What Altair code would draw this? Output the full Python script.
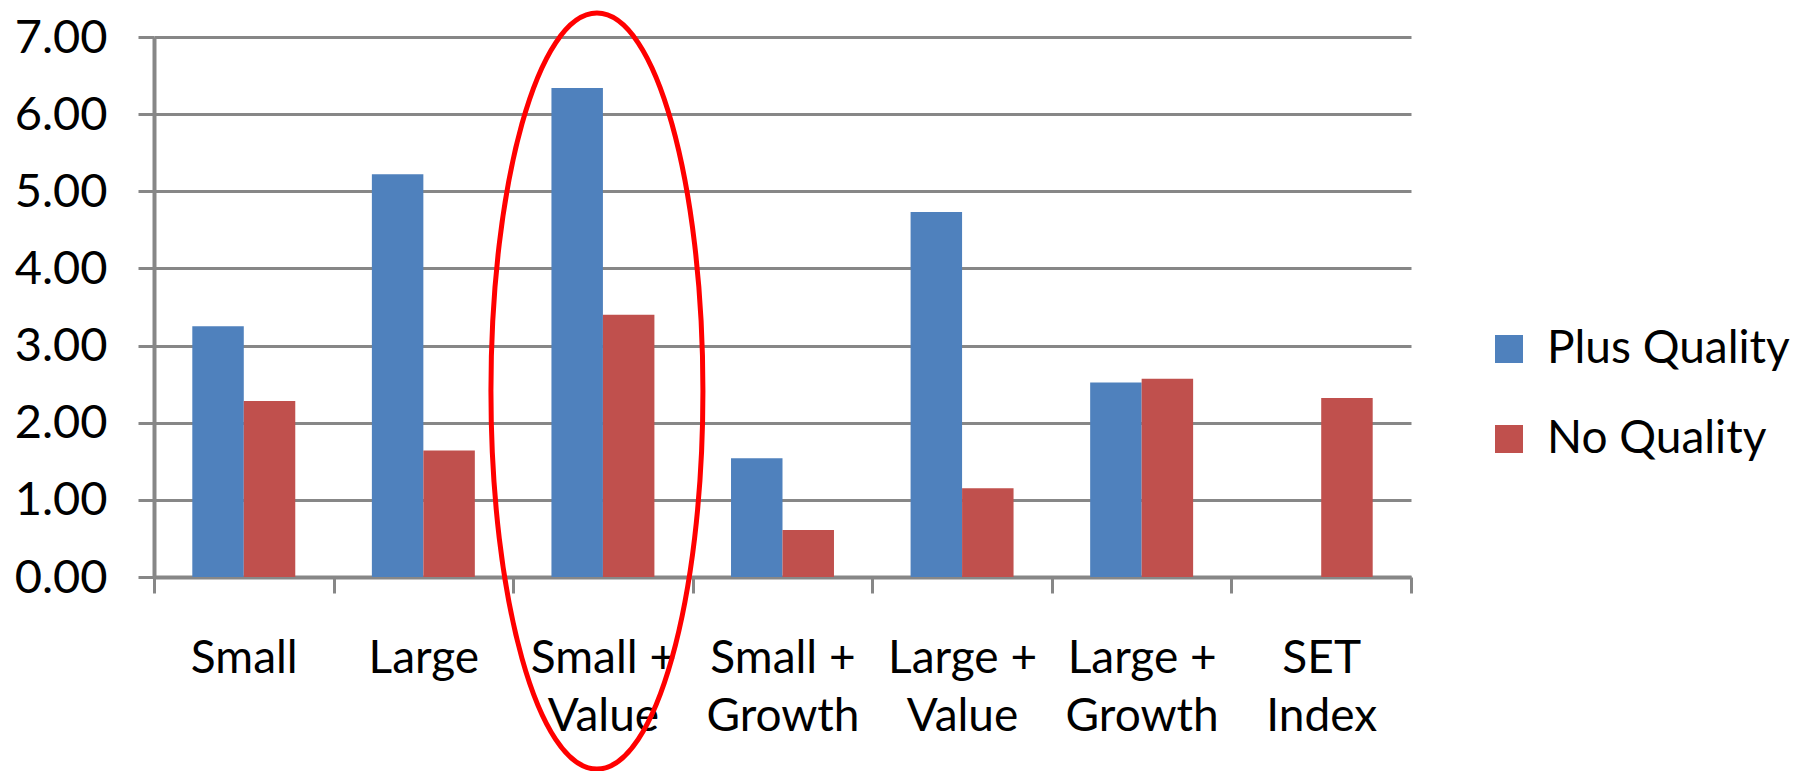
import altair as alt
import pandas as pd

# Portfolio groups on the x axis (line breaks mark the two-line labels)
categories = [
    "Small",
    "Large",
    "Small +\nValue",
    "Small +\nGrowth",
    "Large +\nValue",
    "Large +\nGrowth",
    "SET\nIndex",
]
series_names = ["Plus Quality", "No Quality"]
plus_quality = [3.25, 5.22, 6.34, 1.54, 4.73, 2.52, None]
no_quality = [2.28, 1.64, 3.40, 0.61, 1.15, 2.57, 2.32]
y_ticks = [0, 1, 2, 3, 4, 5, 6, 7]

# Highlighted group and the vertical centre of its outline (in axis units)
highlight_category = ["Small +\nValue"]
highlight_center = [2.41]

BLUE = "#4F81BD"
RED = "#C0504D"
GRAY = "#878787"
FONT = "Lato"

rows = []
for cat, pq, nq in zip(categories, plus_quality, no_quality):
    if pq is not None:
        rows.append({"category": cat, "series": series_names[0], "value": pq})
    if nq is not None:
        rows.append({"category": cat, "series": series_names[1], "value": nq})
bars_df = pd.DataFrame(rows)

hl_df = pd.DataFrame({"category": highlight_category, "center": highlight_center})

x_scale = alt.Scale(domain=categories, paddingInner=0, paddingOuter=0)
y_scale = alt.Scale(domain=[0, 7], nice=False, zero=True)

bars = alt.Chart(bars_df).mark_bar(stroke=None, xOffset=3).encode(
    x=alt.X(
        "category:N",
        scale=x_scale,
        sort=categories,
        axis=alt.Axis(
            title=None,
            labelAngle=0,
            labelExpr="split(datum.label, '\\n')",
            labelFont=FONT,
            labelFontSize=46,
            labelColor="black",
            labelPadding=43,
            labelLineHeight=58,
            labelOverlap=False,
            labelBound=False,
            labelFlush=False,
            labelLimit=0,
            domainColor=GRAY,
            domainWidth=4,
            tickColor=GRAY,
            tickWidth=3,
            tickSize=16,
            tickBand="extent",
            grid=False,
        ),
    ),
    xOffset=alt.XOffset(
        "series:N",
        sort=series_names,
        scale=alt.Scale(domain=series_names, paddingInner=0, paddingOuter=0.744),
    ),
    y=alt.Y(
        "value:Q",
        scale=y_scale,
        axis=alt.Axis(
            title=None,
            values=y_ticks,
            format=".2f",
            labelFont=FONT,
            labelFontSize=47,
            labelColor="black",
            labelPadding=31,
            labelOffset=1,
            domainColor=GRAY,
            domainWidth=4,
            tickColor=GRAY,
            tickWidth=3,
            tickSize=16,
            grid=True,
            gridColor=GRAY,
            gridWidth=3,
        ),
    ),
    color=alt.Color(
        "series:N",
        sort=series_names,
        scale=alt.Scale(domain=series_names, range=[BLUE, RED]),
        legend=alt.Legend(
            title=None,
            orient="none",
            legendX=1332,
            legendY=289,
            symbolType="square",
            symbolSize=784,
            symbolStrokeWidth=0,
            symbolOpacity=1,
            labelFont=FONT,
            labelFontSize=46,
            labelColor="black",
            labelOffset=15,
            labelLimit=0,
            rowPadding=44,
            padding=0,
        ),
    ),
)

# Tall ellipse drawn as a custom symbol path (cubic Bezier quarters)
a = 0.2804
k = 0.5523
ellipse_path = (
    f"M 0,-1 C {k*a:.4f},-1 {a:.4f},{-k:.4f} {a:.4f},0 "
    f"C {a:.4f},{k:.4f} {k*a:.4f},1 0,1 "
    f"C {-k*a:.4f},1 {-a:.4f},{k:.4f} {-a:.4f},0 "
    f"C {-a:.4f},{-k:.4f} {-k*a:.4f},-1 0,-1 Z"
)

outline = alt.Chart(hl_df).mark_point(
    shape=ellipse_path,
    filled=False,
    stroke="#FF0000",
    strokeWidth=5,
    opacity=1,
    size=756 * 756,
    xOffset=-6,
).encode(
    x=alt.X("category:N", scale=x_scale, sort=categories),
    y=alt.Y("center:Q", scale=y_scale),
)

chart = (
    alt.layer(bars, outline)
    .properties(
        width=1257,
        height=540,
        padding={"left": 154, "top": 37, "right": 391, "bottom": 194},
        autosize=alt.AutoSizeParams(type="none"),
        background="white",
    )
    .configure_view(stroke=None)
)

chart.save("out.html", embed_options={"renderer": "svg", "actions": False})
